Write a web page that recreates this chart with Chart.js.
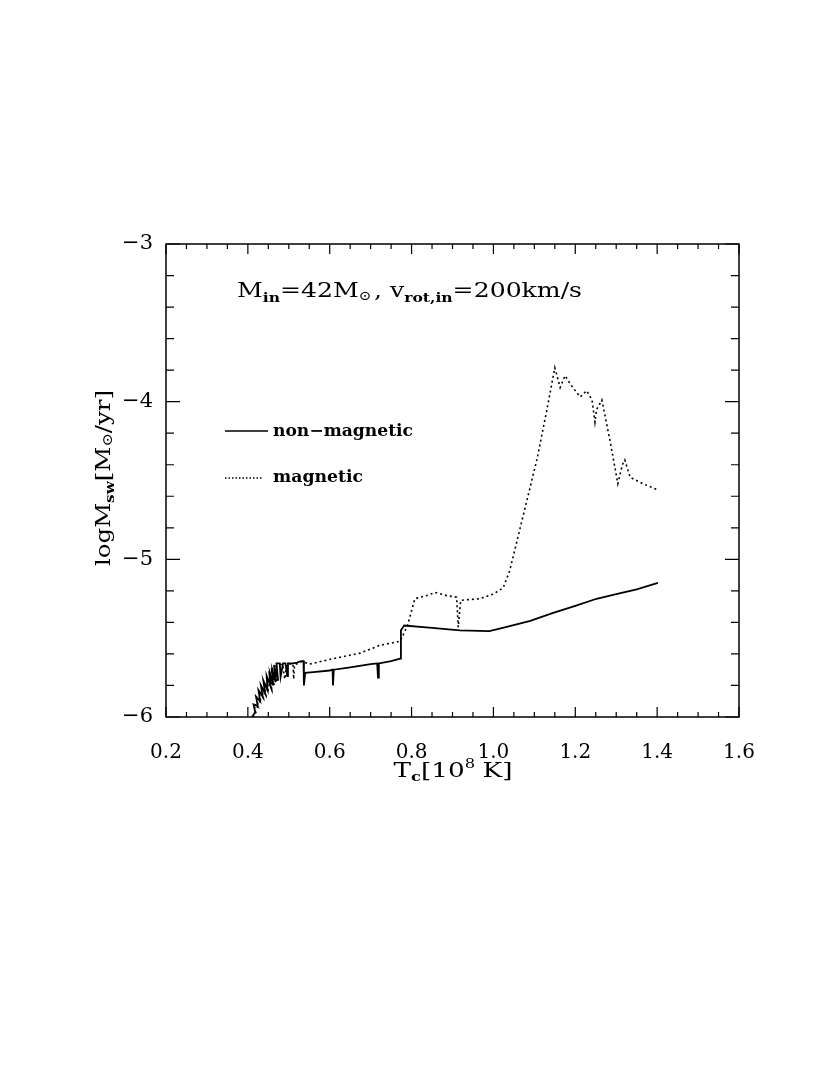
<!DOCTYPE html>
<html>
<head>
<meta charset="utf-8">
<script src="https://cdn.jsdelivr.net/npm/chart.js@4.4.0/dist/chart.umd.min.js"></script>
<style>
  html, body { margin: 0; padding: 0; background: #fff; }
  #wrap { width: 830px; height: 1075px; }
</style>
</head>
<body>
<div id="wrap"><canvas id="chart" width="830" height="1075"></canvas></div>
<script>
// Data: central temperature [10^8 K] vs log mass-loss rate
const tNonMag = [0.410, 0.418, 0.414, 0.424, 0.420, 0.430, 0.426, 0.436, 0.432, 0.442,
  0.438, 0.448, 0.446, 0.456, 0.452, 0.462, 0.458, 0.468, 0.464, 0.474,
  0.470, 0.478, 0.480, 0.486, 0.492, 0.496, 0.498, 0.510, 0.520, 0.530,
  0.536, 0.537, 0.540, 0.560, 0.600, 0.607, 0.608, 0.610, 0.650, 0.700,
  0.716, 0.718, 0.720, 0.750, 0.772, 0.774, 0.782, 0.850, 0.918, 0.990,
  1.030, 1.090, 1.146, 1.200, 1.252, 1.300, 1.350, 1.402];
const logNonMag = [-6.00, -5.97, -5.92, -5.93, -5.87, -5.90, -5.83, -5.87, -5.80, -5.85,
  -5.77, -5.83, -5.74, -5.81, -5.71, -5.80, -5.69, -5.78, -5.67, -5.77,
  -5.66, -5.66, -5.745, -5.66, -5.66, -5.74, -5.66, -5.66, -5.655, -5.645,
  -5.645, -5.80, -5.72, -5.715, -5.705, -5.70, -5.80, -5.70, -5.685, -5.665,
  -5.66, -5.75, -5.66, -5.645, -5.63, -5.45, -5.42, -5.435, -5.45, -5.455,
  -5.43, -5.39, -5.34, -5.295, -5.25, -5.22, -5.19, -5.15];

const tMag = [0.412, 0.420, 0.416, 0.426, 0.422, 0.432, 0.428, 0.438, 0.434, 0.444,
  0.440, 0.450, 0.448, 0.458, 0.454, 0.464, 0.460, 0.470, 0.466, 0.475,
  0.485, 0.490, 0.495, 0.510, 0.512, 0.514, 0.530, 0.540, 0.550, 0.608,
  0.674, 0.723, 0.772, 0.790, 0.808, 0.837, 0.857, 0.886, 0.910, 0.914,
  0.920, 0.967, 1.000, 1.024, 1.040, 1.072, 1.106, 1.130, 1.150, 1.163,
  1.175, 1.187, 1.200, 1.212, 1.228, 1.241, 1.248, 1.252, 1.265, 1.285,
  1.304, 1.315, 1.321, 1.334, 1.365, 1.402];
const logMag = [-6.00, -5.98, -5.93, -5.94, -5.88, -5.91, -5.84, -5.88, -5.81, -5.86,
  -5.78, -5.84, -5.75, -5.82, -5.72, -5.80, -5.70, -5.78, -5.68, -5.67,
  -5.665, -5.76, -5.67, -5.66, -5.76, -5.67, -5.65, -5.655, -5.665, -5.63,
  -5.595, -5.545, -5.52, -5.42, -5.25, -5.23, -5.21, -5.23, -5.24, -5.43,
  -5.26, -5.25, -5.22, -5.18, -5.07, -4.73, -4.37, -4.06, -3.785, -3.91,
  -3.835, -3.885, -3.93, -3.97, -3.93, -3.99, -4.13, -4.05, -3.99, -4.25,
  -4.52, -4.40, -4.37, -4.48, -4.52, -4.56];

const xTicks = [0.2, 0.4, 0.6, 0.8, 1.0, 1.2, 1.4, 1.6];
const yTicks = [-6, -5, -4, -3];

const serif = '"DejaVu Serif", "Liberation Serif", serif';

function toPoints(xs, ys) {
  return xs.map((x, i) => ({ x: x, y: ys[i] }));
}

// draws a list of text pieces (for sub/superscripts), squeezed/stretched to a width
function drawRich(ctx, segs, x, y, width, align) {
  let total = 0;
  segs.forEach(s => {
    ctx.font = (s.bold ? 'bold ' : '') + s.size + 'px ' + serif;
    s.w = ctx.measureText(s.t).width + (s.gap || 0);
    total += s.w;
  });
  const k = width ? width / total : 1;
  const w = total * k;
  let x0 = align === 'center' ? x - w / 2 : x;
  ctx.save();
  ctx.translate(x0, y);
  ctx.scale(k, 1);
  ctx.fillStyle = '#000';
  ctx.textBaseline = 'alphabetic';
  ctx.textAlign = 'left';
  let cx = 0;
  segs.forEach(s => {
    ctx.font = (s.bold ? 'bold ' : '') + s.size + 'px ' + serif;
    ctx.fillText(s.t, cx, s.dy || 0);
    cx += s.w;
  });
  ctx.restore();
}

const framePlugin = {
  id: 'frame',
  beforeDraw(chart) {
    const ctx = chart.ctx;
    ctx.save();
    ctx.fillStyle = '#fff';
    ctx.fillRect(0, 0, chart.width, chart.height);
    ctx.restore();
  },
  afterDraw(chart) {
    const ctx = chart.ctx;
    const a = chart.chartArea;
    const xs = chart.scales.x, ys = chart.scales.y;
    ctx.save();
    ctx.strokeStyle = '#000';
    ctx.lineWidth = 1.5;
    ctx.strokeRect(a.left, a.top, a.right - a.left, a.bottom - a.top);

    // inward ticks on all four sides
    ctx.lineWidth = 1.2;
    ctx.beginPath();
    for (let i = 0; i <= 28; i++) {
      const px = xs.getPixelForValue(0.2 + i * 0.05);
      const len = i % 4 === 0 ? 10 : 5;
      ctx.moveTo(px, a.bottom); ctx.lineTo(px, a.bottom - len);
      ctx.moveTo(px, a.top); ctx.lineTo(px, a.top + len);
    }
    for (let i = 0; i <= 15; i++) {
      const py = ys.getPixelForValue(-6 + i * 0.2);
      const len = i % 5 === 0 ? 14 : 8;
      ctx.moveTo(a.left, py); ctx.lineTo(a.left + len, py);
      ctx.moveTo(a.right, py); ctx.lineTo(a.right - len, py);
    }
    ctx.stroke();

    // legend
    ctx.lineWidth = 1.5;
    ctx.beginPath();
    ctx.moveTo(225, 431); ctx.lineTo(268, 431);
    ctx.stroke();
    ctx.setLineDash([1.5, 2]);
    ctx.beginPath();
    ctx.moveTo(225, 478); ctx.lineTo(263, 478);
    ctx.stroke();
    ctx.setLineDash([]);
    ctx.restore();

    drawRich(ctx, [{ t: 'non\u2212magnetic', size: 16, bold: true }], 273, 436, 140, 'left');
    drawRich(ctx, [{ t: 'magnetic', size: 16, bold: true }], 273, 482, 90, 'left');

    // title inside the plot
    drawRich(ctx, [
      { t: 'M', size: 21 },
      { t: 'in', size: 13, dy: 5, bold: true },
      { t: '=42M', size: 21 },
      { t: '\u2299', size: 13, dy: 3, gap: 2 },
      { t: ', v', size: 21 },
      { t: 'rot,in', size: 13, dy: 5, bold: true },
      { t: '=200km/s', size: 21 }
    ], 237, 297, 345, 'left');

    // x axis title
    drawRich(ctx, [
      { t: 'T', size: 21 },
      { t: 'c', size: 13, dy: 4, bold: true },
      { t: '[10', size: 21 },
      { t: '8', size: 13, dy: -9, gap: 6 },
      { t: 'K]', size: 21 }
    ], 453, 777, 119, 'center');

    // y axis title (rotated)
    ctx.save();
    ctx.translate(110, 478);
    ctx.rotate(-Math.PI / 2);
    drawRich(ctx, [
      { t: 'logM', size: 21 },
      { t: 'sw', size: 13, dy: 4, bold: true },
      { t: '[M', size: 21 },
      { t: '\u2299', size: 14, dy: 2 },
      { t: '/yr]', size: 21 }
    ], 0, 0, 176, 'center');
    ctx.restore();
  }
};

new Chart(document.getElementById('chart').getContext('2d'), {
  type: 'scatter',
  data: {
    datasets: [
      {
        label: 'non-magnetic',
        data: toPoints(tNonMag, logNonMag),
        showLine: true,
        borderColor: '#000',
        borderWidth: 1.8,
        pointRadius: 0,
        tension: 0,
      },
      {
        label: 'magnetic',
        data: toPoints(tMag, logMag),
        showLine: true,
        borderColor: '#000',
        borderWidth: 1.6,
        borderDash: [2, 3],
        pointRadius: 0,
        tension: 0,
      },
    ],
  },
  options: {
    responsive: false,
    animation: false,
    devicePixelRatio: 1,
    layout: { padding: { left: 0, top: 244, right: 91, bottom: 0 } },
    plugins: {
      legend: { display: false },
      tooltip: { enabled: false },
      title: { display: false },
    },
    scales: {
      x: {
        type: 'linear',
        min: 0.2,
        max: 1.6,
        afterBuildTicks: s => { s.ticks = xTicks.map(v => ({ value: v })); },
        afterFit: s => { s.height = 1075 - 717; },
        grid: { display: false },
        border: { display: false },
        ticks: {
          autoSkip: false,
          maxRotation: 0,
          padding: 16,
          color: '#000',
          font: { family: serif, size: 20 },
          callback: v => v.toFixed(1),
        },
      },
      y: {
        type: 'linear',
        min: -6,
        max: -3,
        afterBuildTicks: s => { s.ticks = yTicks.map(v => ({ value: v })); },
        afterFit: s => { s.width = 166; },
        grid: { display: false },
        border: { display: false },
        ticks: {
          autoSkip: false,
          padding: 5,
          color: '#000',
          font: { family: serif, size: 21 },
          callback: v => String(v).replace('-', '\u2212'),
        },
      },
    },
  },
  plugins: [framePlugin],
});
</script>
</body>
</html>
